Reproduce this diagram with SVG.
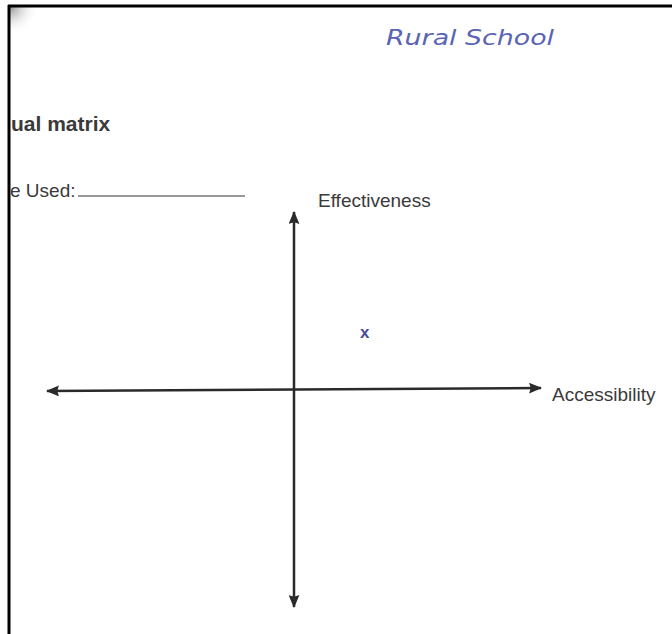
<svg xmlns="http://www.w3.org/2000/svg" width="672" height="634" viewBox="0 0 672 634">
  <defs>
    <marker id="ah" viewBox="0 0 12 10" refX="11" refY="5" markerWidth="13" markerHeight="11" orient="auto-start-reverse" markerUnits="userSpaceOnUse">
      <path d="M0,0 L12,5 L0,10 L1.5,5 Z" fill="#2a2a2a"/>
    </marker>
    <radialGradient id="shadow" cx="0" cy="0" r="1">
      <stop offset="0" stop-color="#888" stop-opacity="0.9"/>
      <stop offset="1" stop-color="#fff" stop-opacity="0"/>
    </radialGradient>
    <style>
      .print { font-family: "Liberation Sans", Arial, sans-serif; fill: #3a3a3a; }
      .axis { stroke: #2a2a2a; stroke-width: 2.5; fill: none; }
      .hand { font-family: "DejaVu Sans", sans-serif; fill: #5a64b4; }
    </style>
  </defs>
  <rect width="672" height="634" fill="#ffffff"/>
  <rect x="10" y="7" width="28" height="28" fill="url(#shadow)"/>
  <g id="frame">
    <line x1="8" y1="6" x2="672" y2="6" stroke="#000" stroke-width="3"/>
    <line x1="9" y1="5" x2="9" y2="634" stroke="#000" stroke-width="3"/>
  </g>
  <g id="handwriting">
    <text class="hand" x="386" y="45" font-size="22" font-style="italic" font-weight="300" textLength="168" lengthAdjust="spacingAndGlyphs">Rural School</text>
  </g>
  <g id="title">
    <text class="print" x="11" y="131" font-size="21" font-weight="bold" fill="#222">ual matrix</text>
  </g>
  <g id="used">
    <text class="print" x="10" y="197" font-size="19">e Used:</text>
    <line x1="78" y1="196" x2="245" y2="196" stroke="#333" stroke-width="1.2"/>
  </g>
  <g id="connectors">
    <line class="axis" x1="294" y1="607" x2="294" y2="212" marker-start="url(#ah)" marker-end="url(#ah)"/>
    <line class="axis" x1="47" y1="391" x2="541" y2="388" marker-start="url(#ah)" marker-end="url(#ah)"/>
  </g>
  <g id="effectiveness">
    <text class="print" x="318" y="207" font-size="19">Effectiveness</text>
  </g>
  <g id="accessibility">
    <text class="print" x="552" y="401" font-size="19">Accessibility</text>
  </g>
  <g id="mark">
    <text x="360" y="338" font-family="Liberation Sans, sans-serif" font-size="17" font-weight="bold" fill="#4a4a9a">x</text>
  </g>
</svg>
